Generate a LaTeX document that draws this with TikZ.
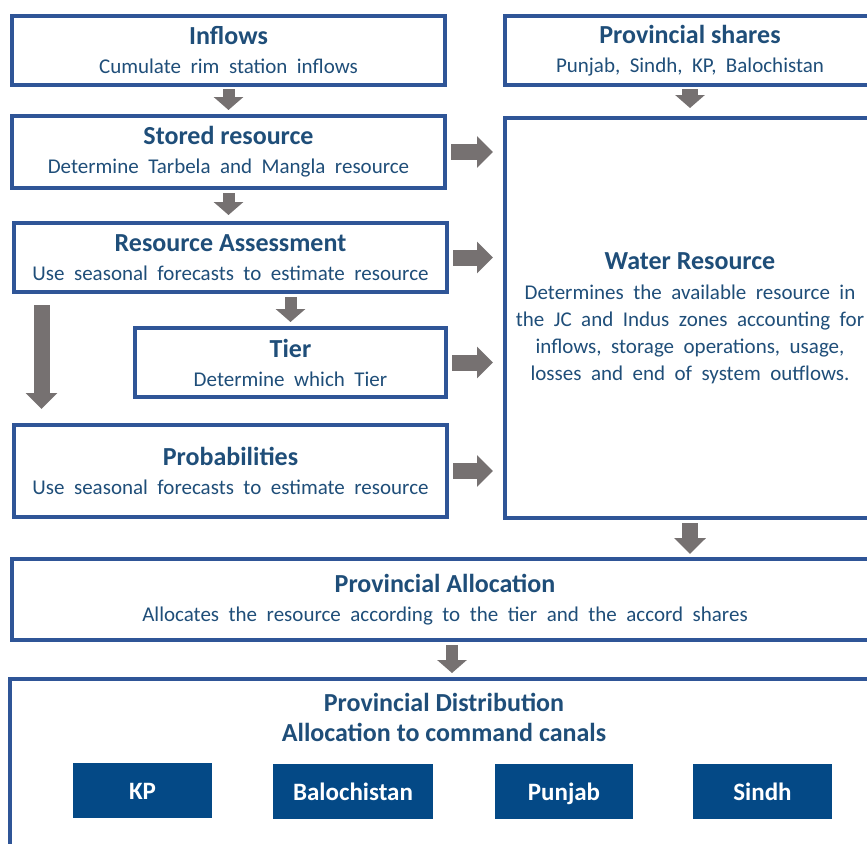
\documentclass[tikz,border=0pt]{standalone}
\usepackage{fontspec}
\setmainfont{Carlito}
\usetikzlibrary{arrows.meta,shadows}
\definecolor{boxblue}{RGB}{47,85,151}
\definecolor{textblue}{RGB}{31,78,121}
\definecolor{provblue}{RGB}{4,73,134}
\definecolor{arrowgray}{RGB}{118,113,113}
\newcommand{\widespaces}{\spaceskip 9.5pt plus 1pt\relax}
\newcommand{\stagetitle}[1]{{\fontsize{26}{30}\selectfont\bfseries\spaceskip 0pt\relax #1}}

\begin{document}
\begin{tikzpicture}[x=1pt,y=-1pt,
    stage/.style={draw=boxblue, line width=4pt, fill=white, align=center,
      text=textblue, inner sep=0pt,
      font=\fontsize{21}{27}\selectfont\widespaces,
      drop shadow={opacity=0.15, shadow xshift=2pt, shadow yshift=-2pt}},
    province/.style={fill=provblue, text=white, inner sep=0pt,
      text height=18pt, text depth=0pt,
      minimum height=55pt, font=\fontsize{25}{30}\selectfont\bfseries},
    flow/.style={draw=arrowgray, line width=12pt,
      -{Triangle[width=29pt,length=13pt]}},
    feed/.style={draw=arrowgray, line width=16pt,
      -{Triangle[width=31pt,length=16pt]}}]
    \useasboundingbox (0,0) rectangle (867,843);
    \clip (0,0) rectangle (867,843);
    \fill[white] (0,0) rectangle (867,843);

    % left column
    \node[stage, minimum width=433pt, minimum height=69pt] (inflows) at (228.5,50.5)
      {\stagetitle{Inflows}\\[2pt]Cumulate rim station inflows};
    \node[stage, minimum width=433pt, minimum height=72pt] (stored) at (228.5,152)
      {\stagetitle{Stored resource}\\[2pt]Determine Tarbela and Mangla resource};
    \node[stage, minimum width=433pt, minimum height=69pt] (assess) at (230.5,257.5)
      {\stagetitle{Resource Assessment}\\[2pt]Use seasonal forecasts to estimate resource};
    \node[stage, minimum width=311pt, minimum height=69pt] (tier) at (290.5,362.5)
      {\stagetitle{Tier}\\[2pt]Determine which Tier};
    \node[stage, minimum width=433pt, minimum height=92pt] (probs) at (230.5,471)
      {\stagetitle{Probabilities}\\[2pt]Use seasonal forecasts to estimate resource};

    % right column
    \node[stage, minimum width=370pt, minimum height=69pt] (shares) at (690,50.5)
      {\stagetitle{Provincial shares}\\[2pt]Punjab, Sindh, KP, Balochistan};
    \node[stage, minimum width=370pt, minimum height=400pt] (water) at (690,318)
      {\stagetitle{Water Resource}\\[3pt]Determines the available resource in\\
       the JC and Indus zones accounting for\\inflows, storage operations, usage,\\
       losses and end of system outflows.};

    % bottom
    \node[stage, minimum width=866pt, minimum height=81pt] (alloc) at (445,599.5)
      {\stagetitle{Provincial Allocation}\\[2pt]Allocates the resource according to the tier and the accord shares};
    \node[stage, minimum width=868pt, minimum height=182pt] (distr) at (444,770) {};
    \node[text=textblue, align=center, font=\fontsize{26}{30}\selectfont\bfseries]
      (distrtitle) at (444,717) {Provincial Distribution\\Allocation to command canals};

    \node[province, minimum width=139pt] (kp) at (142.5,790.5) {KP};
    \node[province, minimum width=160pt] (balo) at (353,791.5) {Balochistan};
    \node[province, minimum width=138pt] (punjab) at (564,791.5) {Punjab};
    \node[province, minimum width=139pt] (sindh) at (762.5,791.5) {Sindh};

    \draw[flow, shorten <=2pt, shorten >=4pt] (inflows) -- (stored);
    \draw[flow, shorten <=3pt, shorten >=6pt] (stored.south) -- (stored.south |- assess.north);
    \draw[flow, shorten <=3pt, shorten >=4pt] (assess.south -| tier) -- (tier.north);
    \draw[flow, line width=16pt, shorten <=2pt, shorten >=8pt] (shares.south) -- (shares.south |- water.north);
    \draw[feed, shorten <=11pt, shorten >=14pt]
      ([xshift=29.5pt]assess.south west) -- ([xshift=29.5pt]probs.north west);
    \draw[feed, shorten <=4pt, shorten >=10pt] (stored.east) -- (stored.east -| water.west);
    \draw[feed, shorten <=4pt, shorten >=10pt] (assess.east) -- (assess.east -| water.west);
    \draw[feed, shorten <=4pt, shorten >=10pt] (tier.east) -- (tier.east -| water.west);
    \draw[feed, shorten <=4pt, shorten >=10pt] (probs.east) -- (probs.east -| water.west);
    \draw[feed, shorten <=3pt, shorten >=3pt] (water.south) -- (water.south |- alloc.north);
    \draw[flow, shorten <=3pt, shorten >=4pt]
      ([xshift=7pt]alloc.south) -- ([xshift=7pt]alloc.south |- distr.north);
  \end{tikzpicture}
\end{document}
